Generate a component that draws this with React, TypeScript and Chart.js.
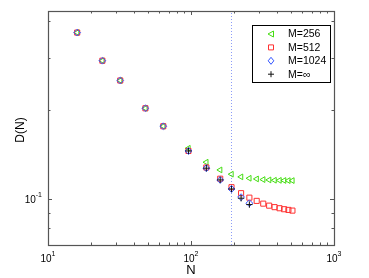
import React, { useEffect, useRef } from "react";
import { Chart, registerables } from "chart.js";

Chart.register(...registerables);

const nLong = [16, 24, 32, 48, 64, 96, 128, 160, 192, 224, 256, 288, 320, 352, 384, 416, 448, 480, 512];
const n1024 = [16, 24, 32, 48, 64, 96, 128, 160, 192, 224, 256];
const nInf = [96, 128, 160, 192, 224, 256];

const d256 = [0.366, 0.294, 0.252, 0.203, 0.1765, 0.1487, 0.1334, 0.1256, 0.1215, 0.119, 0.1177, 0.1171, 0.1165, 0.1162, 0.1159, 0.1158, 0.1157, 0.1156, 0.1156];
const d512 = [0.366, 0.294, 0.252, 0.203, 0.1765, 0.1456, 0.128, 0.1173, 0.1098, 0.1048, 0.1012, 0.0987, 0.0966, 0.0951, 0.094, 0.0932, 0.0925, 0.092, 0.0915];
const d1024 = [0.366, 0.294, 0.252, 0.203, 0.1765, 0.1456, 0.1273, 0.1162, 0.1083, 0.1016, 0.0969];
const dInf = [0.1456, 0.1273, 0.1162, 0.1083, 0.1008, 0.0959];

const seriesLabels = ["M=256", "M=512", "M=1024", "M=\u221e"];
const cutoffN = 192;

const xMajorTicks = [10, 100, 1000];
const xMajorExp = ["1", "2", "3"];
const xMinorTicks = [20, 30, 40, 50, 60, 70, 80, 90, 200, 300, 400, 500, 600, 700, 800, 900];
const yMajorTicks = [0.1];
const yMajorExp = ["-1"];
const yMinorTicks = [0.07, 0.08, 0.09, 0.2, 0.3, 0.4];

const X_MIN = 10, X_MAX = 1000, Y_MIN = 0.07, Y_MAX = 0.433;
const FONT = "'Liberation Sans', Arial, Helvetica, sans-serif";
const GREEN = "#44dd11";
const RED = "#ff3030";
const BLUE = "#3355ff";
const BLACK = "#111111";

function pts(xs: number[], ys: number[]) {
  return xs.map((x, i) => ({ x, y: ys[i] }));
}

function drawMarker(ctx: CanvasRenderingContext2D, kind: string, x: number, y: number, color: string) {
  ctx.save();
  ctx.strokeStyle = color;
  ctx.lineWidth = 1;
  ctx.beginPath();
  if (kind === "tri") {
    ctx.moveTo(x - 3, y);
    ctx.lineTo(x + 2.5, y - 3);
    ctx.lineTo(x + 2.5, y + 3);
    ctx.closePath();
  } else if (kind === "sq") {
    ctx.rect(x - 2.5, y - 2.5, 5, 5);
  } else if (kind === "dia") {
    ctx.moveTo(x, y - 3.5);
    ctx.lineTo(x + 2.8, y);
    ctx.lineTo(x, y + 3.5);
    ctx.lineTo(x - 2.8, y);
    ctx.closePath();
  } else {
    ctx.moveTo(x - 3, y);
    ctx.lineTo(x + 3, y);
    ctx.moveTo(x, y - 3);
    ctx.lineTo(x, y + 3);
  }
  ctx.stroke();
  ctx.restore();
}

const framePlugin = {
  id: "matlabFrame",
  afterDraw(chart: any) {
    const ctx: CanvasRenderingContext2D = chart.ctx;
    const { left, right, top, bottom } = chart.chartArea;
    const xs = chart.scales.x;
    const ys = chart.scales.y;
    ctx.save();
    ctx.strokeStyle = "#555555";
    ctx.lineWidth = 1.2;
    ctx.strokeRect(left + 0.5, top + 0.5, right - left, bottom - top);
    ctx.lineWidth = 1;
    const tick = (px: number, len: number, horiz: boolean) => {
      ctx.beginPath();
      const p = Math.round(px) + 0.5;
      if (horiz) {
        ctx.moveTo(p, bottom);
        ctx.lineTo(p, bottom - len);
        ctx.moveTo(p, top);
        ctx.lineTo(p, top + len);
      } else {
        ctx.moveTo(left, p);
        ctx.lineTo(left + len, p);
        ctx.moveTo(right, p);
        ctx.lineTo(right - len, p);
      }
      ctx.stroke();
    };
    xMinorTicks.forEach((v) => tick(xs.getPixelForValue(v), 2.5, true));
    xMajorTicks.forEach((v) => tick(xs.getPixelForValue(v), 4, true));
    yMinorTicks.forEach((v) => tick(ys.getPixelForValue(v), 2.5, false));
    yMajorTicks.forEach((v) => tick(ys.getPixelForValue(v), 4, false));

    ctx.fillStyle = "#000";
    ctx.textBaseline = "alphabetic";
    const baseFont = `10px ${FONT}`;
    const expFont = `7px ${FONT}`;
    xMajorTicks.forEach((v, i) => {
      const px = xs.getPixelForValue(v);
      ctx.font = baseFont;
      const wb = ctx.measureText("10").width;
      ctx.font = expFont;
      const we = ctx.measureText(xMajorExp[i]).width;
      const x0 = px - (wb + we) / 2;
      ctx.font = baseFont;
      ctx.textAlign = "left";
      ctx.fillText("10", x0, bottom + 17);
      ctx.font = expFont;
      ctx.fillText(xMajorExp[i], x0 + wb, bottom + 11);
    });
    yMajorTicks.forEach((v, i) => {
      const py = ys.getPixelForValue(v);
      ctx.font = expFont;
      const we = ctx.measureText(yMajorExp[i]).width;
      ctx.font = baseFont;
      const wb = ctx.measureText("10").width;
      const xEnd = left - 6;
      ctx.textAlign = "left";
      ctx.fillText("10", xEnd - we - wb, py + 3.5);
      ctx.font = expFont;
      ctx.fillText(yMajorExp[i], xEnd - we, py - 2);
    });

    ctx.font = `13px ${FONT}`;
    ctx.textAlign = "center";
    ctx.fillText("N", (left + right) / 2, bottom + 29);
    ctx.save();
    ctx.translate(24, (top + bottom) / 2 + 2);
    ctx.rotate(-Math.PI / 2);
    ctx.font = `12px ${FONT}`;
    ctx.fillText("D(N)", 0, 0);
    ctx.restore();

    const lx = 252.5, ly = 25.5, lw = 78, lh = 57;
    ctx.fillStyle = "#fff";
    ctx.fillRect(lx, ly, lw, lh);
    ctx.strokeStyle = "#000";
    ctx.lineWidth = 1;
    ctx.strokeRect(lx, ly, lw, lh);
    const kinds = ["tri", "sq", "dia", "plus"];
    const colors = [GREEN, RED, BLUE, BLACK];
    ctx.font = `10.5px ${FONT}`;
    ctx.textAlign = "left";
    ctx.textBaseline = "middle";
    seriesLabels.forEach((lab, i) => {
      const yy = 34 + i * 13.4;
      drawMarker(ctx, kinds[i], 271, yy, colors[i]);
      ctx.fillStyle = "#000";
      ctx.fillText(lab, 288, yy + 0.5);
    });
    ctx.restore();
  },
};

export default function App() {
  const ref = useRef<HTMLCanvasElement | null>(null);
  useEffect(() => {
    document.body.style.margin = "0";
    if (!ref.current) return;
    const common = { showLine: false, borderWidth: 1, backgroundColor: "rgba(0,0,0,0)" };
    const chart = new Chart(ref.current, {
      type: "scatter",
      data: {
        datasets: [
          {
            label: "cutoff",
            data: [{ x: cutoffN, y: Y_MIN }, { x: cutoffN, y: Y_MAX }],
            showLine: true,
            borderColor: "#8c9cf8",
            borderWidth: 1,
            borderDash: [1, 2],
            pointRadius: 0,
            order: 5,
          },
          {
            ...common,
            label: seriesLabels[0],
            data: pts(nLong, d256),
            borderColor: GREEN,
            pointStyle: "triangle",
            rotation: -90,
            pointRadius: 3.3,
            order: 4,
          },
          {
            ...common,
            label: seriesLabels[1],
            data: pts(nLong, d512),
            borderColor: RED,
            pointStyle: "rect",
            pointRadius: 3.6,
            order: 3,
          },
          {
            ...common,
            label: seriesLabels[2],
            data: pts(n1024, d1024),
            borderColor: BLUE,
            pointStyle: "rectRot",
            pointRadius: 3.4,
            order: 2,
          },
          {
            ...common,
            label: seriesLabels[3],
            data: pts(nInf, dInf),
            borderColor: BLACK,
            pointStyle: "cross",
            pointRadius: 3.2,
            order: 1,
          },
        ],
      },
      options: {
        animation: false,
        responsive: false,
        layout: { padding: { left: 48, top: 11, right: 35, bottom: 33 } },
        plugins: { legend: { display: false }, tooltip: { enabled: false } },
        scales: {
          x: {
            type: "logarithmic",
            min: X_MIN,
            max: X_MAX,
            ticks: { display: false },
            grid: { display: false, drawTicks: false },
            border: { display: false },
          },
          y: {
            type: "logarithmic",
            min: Y_MIN,
            max: Y_MAX,
            ticks: { display: false },
            grid: { display: false, drawTicks: false },
            border: { display: false },
          },
        },
      },
      plugins: [framePlugin],
    });
    return () => chart.destroy();
  }, []);
  return (
    <div style={{ position: "absolute", left: 0, top: 0, width: 369, height: 278, background: "#fff" }}>
      <canvas ref={ref} width={369} height={278} style={{ width: 369, height: 278, display: "block" }} />
    </div>
  );
}
